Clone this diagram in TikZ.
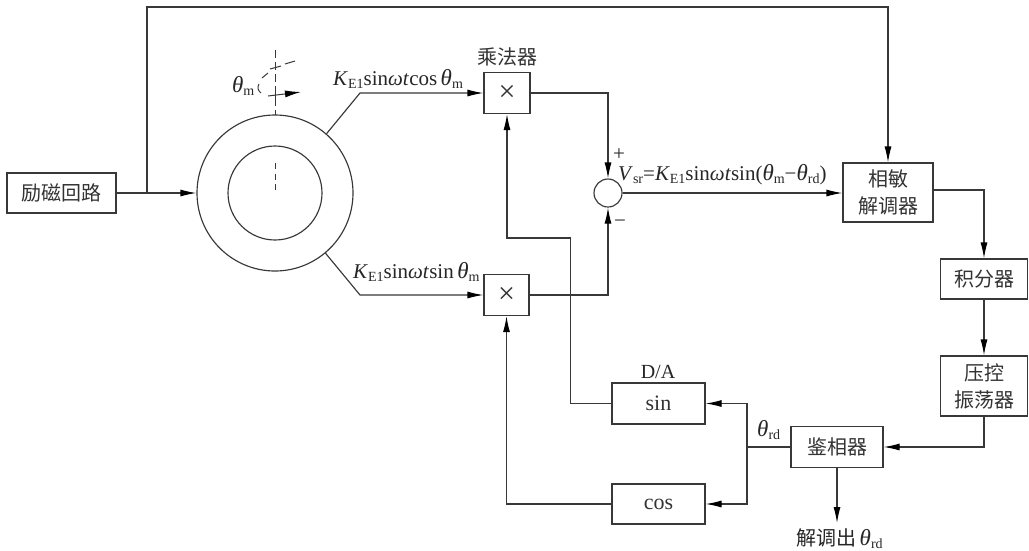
\documentclass[tikz,border=0pt]{standalone}
\usepackage{fontspec}
\setmainfont{Liberation Serif}
\newfontfamily\cjk{Noto Sans CJK SC}
\usetikzlibrary{arrows.meta}
\newcommand{\subs}[1]{\raisebox{-3.5pt}{\fontsize{14}{14}\selectfont #1}}
\newcommand{\thg}{{\fontsize{23}{23}\selectfont\textit{θ}}}
\newcommand{\thm}{\thg\subs{m}}
\newcommand{\thrd}{\thg\subs{rd}}
\newcommand{\kei}{\textit{K}\subs{E1}}
\tikzset{
  wire/.style={draw=black!78,line width=1.15pt},
  arr/.style={wire,-{Latex[length=16pt,width=7pt,black]}},
  blk/.style={draw=black!78,line width=1.15pt,fill=white,minimum width=#1,inner sep=0pt,align=center,font=\cjk\fontsize{20}{27}\selectfont,text=black!80},
  lab/.style={inner sep=0pt,font=\fontsize{21}{21}\selectfont,text=black!85},
  cjklab/.style={inner sep=0pt,font=\cjk\fontsize{20}{20}\selectfont,text=black!80},
  tiny/.style={wire,line width=1pt}
}
\begin{document}
\begin{tikzpicture}[x=1pt,y=-1pt]
\useasboundingbox (0,0) rectangle (1029,550);
% blocks
\node[blk=109pt,minimum height=40pt] (exc) at (61.5,193) {励磁回路};
\node[blk=46pt,minimum height=41pt,font=\fontsize{30}{30}\selectfont] (m1) at (507,93) {×};
\node[blk=45pt,minimum height=41pt,font=\fontsize{30}{30}\selectfont] (m2) at (506.5,295) {×};
\node[blk=90pt,minimum height=59pt] (psd) at (888,192.5) {相敏\\解调器};
\node[blk=87pt,minimum height=40pt] (int) at (984,279) {积分器};
\node[blk=87pt,minimum height=60pt] (vco) at (984,386) {压控\\振荡器};
\node[blk=92pt,minimum height=41pt] (pd) at (837,447) {鉴相器};
\node[blk=93pt,minimum height=41pt,font=\fontsize{22}{22}\selectfont] (sin) at (658.5,403.5) {sin};
\node[blk=93pt,minimum height=40pt,font=\fontsize{22}{22}\selectfont] (cos) at (658.5,504) {cos};
% resolver
\node[draw=black!78,line width=1.15pt,circle,minimum size=156pt,inner sep=0pt] (outer) at (275,193) {};
\node[draw=black!78,line width=1.15pt,circle,minimum size=94pt,inner sep=0pt] (inner) at (275,193) {};
\node[draw=black!78,line width=1.15pt,circle,minimum size=28pt,inner sep=0pt] (sum) at (608,193) {};
% coordinates
\coordinate (jexc) at (147,193);
\coordinate (top1) at (147,7);
\coordinate (top2) at (888,7);
\coordinate (up) at (360,93);
\coordinate (lo) at (360,295);
\coordinate (jt) at (747,447);
\coordinate (axT) at (275,50);
\coordinate (axB) at (275,115);
\coordinate (rotA) at (268,96);
\coordinate (rotB) at (301,92);
\coordinate (sumout) at (837,523);
% connectors
\draw[arr] (exc.east) -- (outer.west);
\draw[arr] (jexc) -- (top1) -- (top2) -- (psd.north);
\draw[arr] (outer.49) -- (up) -- (m1.west);
\draw[arr] (outer.-50) -- (lo) -- (m2.west);
\draw[arr] (m1.east) -| (sum.north);
\draw[arr] (m2.east) -| (sum.south);
\draw[arr] (sum.east) -- (psd.west |- sum.east);
\draw[arr] (psd.east |- 0,190) -| (int.north);
\draw[arr] (int.south) -- (vco.north);
\draw[arr] (vco.south) |- (pd.east);
\draw[arr] (pd.south) -- (sumout);
\draw[wire] (pd.west) -- (jt);
\draw[arr] (jt) |- (sin.east);
\draw[arr] (jt) |- (cos.east);
\draw[arr] (sin.west) -- ++(-41,0) |- (507,238) -- (m1.south);
\draw[arr] (cos.west) -| (m2.south);
% axis
\draw[tiny,dash pattern=on 8pt off 4pt] (axT) -- (axB);
\draw[tiny,dash pattern=on 6pt off 4.5pt] (275,163) -- (275,194);
\draw[arr,line width=1pt] (rotA) -- (rotB);
\draw[tiny] (275,91) -- (275,101);
\draw[tiny] (270,69) -- (281,66);
\draw[tiny] (285,64) -- (295,61);
\draw[tiny] (262,78) -- (268,73);
\draw[tiny] (259,84) .. controls (257,87) and (258,91) .. (261,93);
% labels
\node[lab,anchor=base west] (t1) at (232,92) {\thm};
\node[lab,anchor=base west] (l1) at (333,85) {\kei sin\textit{ωt}cos\,\thm};
\node[cjklab] (c1) at (507,57) {乘法器};
\node[lab,anchor=base west] (l2) at (353,278) {\kei sin\textit{ωt}sin\,\thm};
\node[lab,anchor=base west] (l3) at (618,180) {\textit{V}\subs{sr}=\kei sin\textit{ωt}sin(\thm−\thrd)};
\node[lab] (plus) at (619,155) {+};
\node[lab] (minus) at (620,224) {−};
\node[lab,anchor=base west] (l4) at (757,436) {\thrd};
\node[lab,font=\fontsize{20}{20}\selectfont] (da) at (658,372) {D/A};
\node[lab,anchor=base west] (l5) at (796,545) {{\cjk\fontsize{20}{20}\selectfont 解调出}\,\thrd};
\end{tikzpicture}
\end{document}
